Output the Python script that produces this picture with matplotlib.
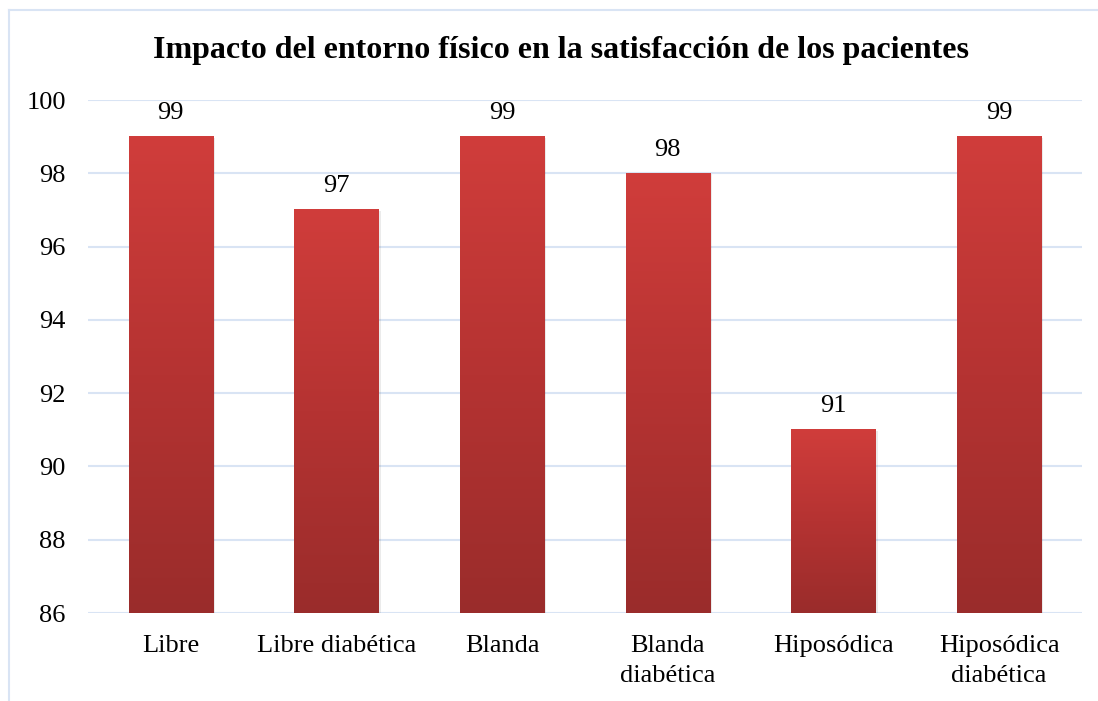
import numpy as np
import matplotlib.pyplot as plt
from matplotlib.lines import Line2D
from matplotlib.colors import LinearSegmentedColormap

# datos del gráfico
categorias = ["Libre", "Libre diabética", "Blanda", "Blanda\ndiabética",
              "Hiposódica", "Hiposódica\ndiabética"]
satisfaccion = [99, 97, 99, 98, 91, 99]
titulo = "Impacto del entorno físico en la satisfacción de los pacientes"

plt.rcParams["font.family"] = ["Liberation Serif", "DejaVu Serif"]

fig = plt.figure(figsize=(10.98, 7.01), dpi=100)
ax = fig.add_axes([0.0801, 0.1255, 0.9053, 0.7318])

y_min, y_max = 86, 100
x = np.arange(len(categorias))
ancho = 0.51

# degradado rojo: claro arriba, oscuro abajo
cmap = LinearSegmentedColormap.from_list("rojo", ["#9A2C2B", "#B53332", "#D03D3B"])
grad = np.linspace(0, 1, 256).reshape(-1, 1)

barras = ax.bar(x, [v - y_min for v in satisfaccion], bottom=y_min, width=ancho,
                color="none", zorder=3)
for b, v in zip(barras, satisfaccion):
    x0 = b.get_x()
    x1 = x0 + b.get_width()
    # sombra suave
    ax.bar(x0 + ancho / 2 + 0.006, v - y_min, bottom=y_min - 0.03, width=ancho + 0.01,
           color="#000000", alpha=0.08, zorder=2)
    ax.imshow(grad, extent=(x0, x1, y_min, v), origin="lower", aspect="auto",
              cmap=cmap, zorder=3)
    ax.annotate(f"{v}", (x0 + ancho / 2, v), xytext=(0, 9), textcoords="offset points",
                ha="center", va="bottom", fontsize=19)

ax.set_xlim(-0.5, len(categorias) - 0.5)
ax.set_ylim(y_min, y_max)
ax.set_yticks(np.arange(86, 101, 2))
ax.set_xticks(x)
ax.set_xticklabels(categorias, fontsize=19, linespacing=1.45)
ax.tick_params(axis="y", labelsize=19, length=0, pad=16)
ax.tick_params(axis="x", length=0, pad=16)
ax.grid(axis="y", color="#D9E4F4", linewidth=1.5, zorder=0)
ax.set_axisbelow(True)
for s in ax.spines.values():
    s.set_visible(False)

fig.text(0.511, 0.928, titulo, ha="center", va="center", fontsize=23, fontweight="bold")

# marco del gráfico (solo izquierda y arriba visibles)
fig.add_artist(Line2D([0.0085, 0.0085], [0, 0.986], color="#D9E4F4", linewidth=1.5,
                      transform=fig.transFigure))
fig.add_artist(Line2D([0.0085, 1], [0.986, 0.986], color="#D9E4F4", linewidth=1.5,
                      transform=fig.transFigure))

fig.savefig("out.png", dpi=100)
